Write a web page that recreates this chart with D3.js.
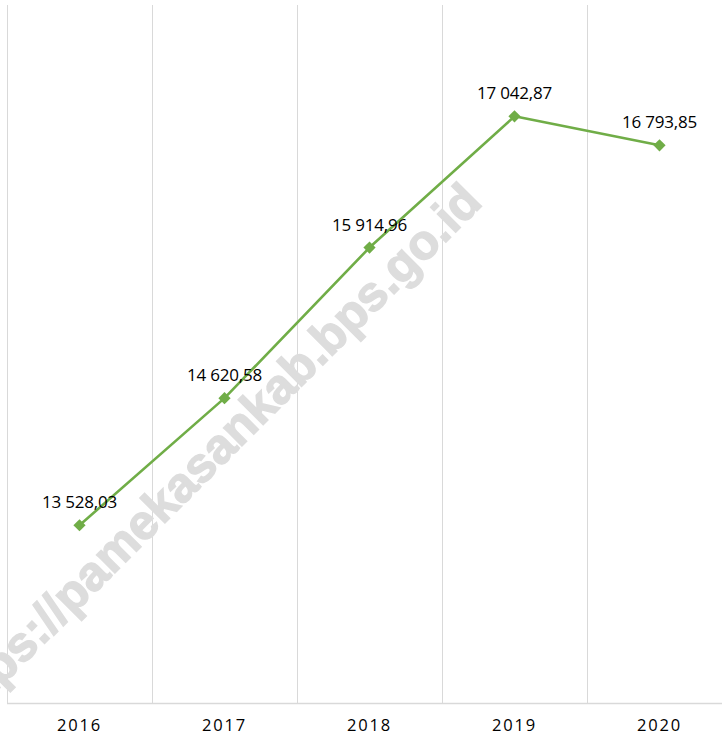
<!DOCTYPE html>
<html>
<head>
<meta charset="utf-8">
<script src="https://cdn.jsdelivr.net/npm/d3@7"></script>
<style>
  body { margin: 0; background: #fff; }
  svg { display: block; }
</style>
</head>
<body>
<div id="chart"></div>
<script>
// data
var years = ["2016", "2017", "2018", "2019", "2020"];
var values = [13528.03, 14620.58, 15914.96, 17042.87, 16793.85];
var valueLabels = ["13 528,03", "14 620,58", "15 914,96", "17 042,87", "16 793,85"];

var W = 722, H = 738;

var svg = d3.select("#chart")
  .append("svg")
    .attr("width", W)
    .attr("height", H);

// x: one band per year, the last band runs past the right edge
var x = d3.scaleBand()
  .domain(years)
  .range([7, 732])
  .padding(0);

// y: value axis, not drawn
var y = d3.scaleLinear()
  .domain([12000, 18000])
  .range([703, 5]);

// vertical gridlines between the categories
var edges = years.map(function(d) { return x(d); });
svg.append("g")
  .selectAll("line")
  .data(edges)
  .enter().append("line")
    .attr("x1", function(d) { return d + 0.5; })
    .attr("x2", function(d) { return d + 0.5; })
    .attr("y1", y(18000))
    .attr("y2", y(12000))
    .attr("stroke", "#d9d9d9")
    .attr("stroke-width", 1);

// watermark
svg.append("text")
  .attr("transform", "translate(484,204) rotate(-45)")
  .attr("text-anchor", "end")
  .attr("font-family", "Liberation Sans, Arial, sans-serif")
  .attr("font-weight", "bold")
  .attr("font-size", 49)
  .attr("fill", "#dddddd")
  .attr("stroke", "#dddddd")
  .attr("stroke-width", 1.4)
  .text("https://pamekasankab.bps.go.id");

// baseline
svg.append("line")
  .attr("x1", 7)
  .attr("x2", W)
  .attr("y1", y(12000) + 0.5)
  .attr("y2", y(12000) + 0.5)
  .attr("stroke", "#d9d9d9")
  .attr("stroke-width", 1.5);

// x labels
var xAxis = d3.axisBottom(x).tickSize(0).tickPadding(16);
var gx = svg.append("g")
  .attr("transform", "translate(0," + y(12000) + ")")
  .call(xAxis);
gx.select(".domain").remove();
gx.selectAll("text")
  .attr("font-family", "Open Sans, sans-serif")
  .attr("font-size", 16.5)
  .attr("letter-spacing", "1.8px")
  .attr("fill", "#000");

var pts = years.map(function(d, i) {
  return { year: d, value: values[i], label: valueLabels[i] };
});
var cx = function(d) { return x(d.year) + x.bandwidth() / 2; };

// the line
svg.append("path")
  .datum(pts)
  .attr("fill", "none")
  .attr("stroke", "#70ad47")
  .attr("stroke-width", 2.6)
  .attr("stroke-linejoin", "round")
  .attr("d", d3.line()
    .x(cx)
    .y(function(d) { return y(d.value); })
  );

// diamond markers
svg.append("g")
  .selectAll("path")
  .data(pts)
  .enter().append("path")
    .attr("transform", function(d) { return "translate(" + cx(d) + "," + y(d.value) + ")"; })
    .attr("d", d3.symbol().type(d3.symbolDiamond2).size(95))
    .attr("fill", "#70ad47");

// data labels
svg.append("g")
  .selectAll("text")
  .data(pts)
  .enter().append("text")
    .attr("x", cx)
    .attr("y", function(d) { return y(d.value) - 17; })
    .attr("text-anchor", "middle")
    .attr("font-family", "Open Sans, sans-serif")
    .attr("font-size", 17)
    .attr("letter-spacing", "-0.2px")
    .attr("fill", "#000")
    .text(function(d) { return d.label; });
</script>
</body>
</html>
